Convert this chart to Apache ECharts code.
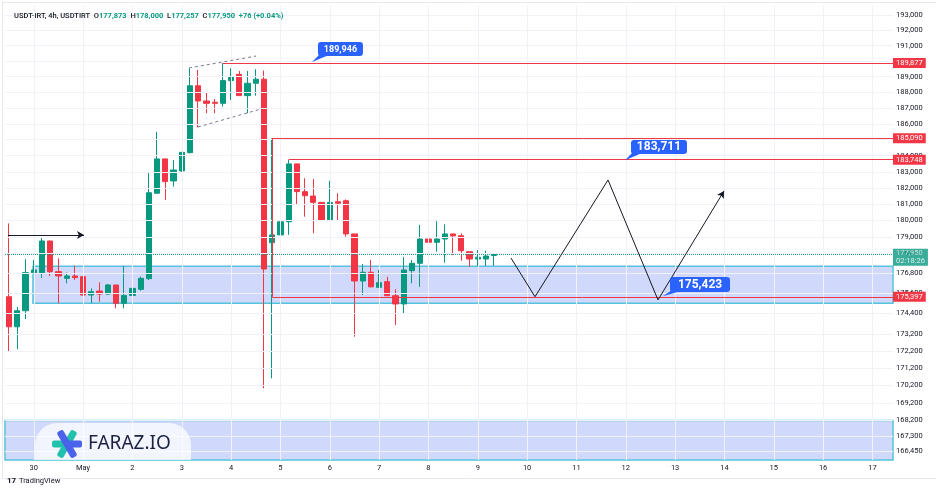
<!DOCTYPE html>
<html><head><meta charset="utf-8">
<script src="https://cdn.jsdelivr.net/npm/echarts@6/dist/echarts.min.js"></script>
<style>html,body{margin:0;padding:0;background:#fff}#c{width:936px;height:492px}</style>
</head><body><div id="c"></div>
<script>
// ---------- DATA ----------
const startMs = Date.UTC(2025, 3, 29, 12); // first 4h bar: Apr 29 12:00
const slotCount = 108;                      // 4h slots shown on the time axis
// [open, close, low, high]
const candles = [
  [175400,173620,172160,179820],[173620,174570,172300,174790],[174570,176840,174080,177650],
  [176840,177000,176820,177600],[176840,178750,176520,178980],[178750,176900,176640,178760],
  [176900,176640,175010,177700],[176500,176640,176200,176840],[176640,176540,176400,177260],
  [176600,175500,175490,176620],[175500,175700,175010,175900],[175740,175560,175100,176260],
  [175560,176100,175500,176160],[176100,175010,174710,176100],[175010,175480,174710,177240],
  [175480,175900,175480,176230],[175840,176500,175760,176600],[176480,181700,176400,182990],
  [181670,183800,181670,185500],[183800,182390,181260,183800],[182430,183110,182080,183730],
  [183050,184210,183000,184210],[184190,188420,184150,189540],[188420,187450,185780,189430],
  [187450,187300,186670,187980],[187370,187300,186670,187580],[187300,188750,187090,189877],
  [188750,188960,187510,189540],[189150,187790,187790,189370],[187790,188580,186670,189370],
  [188580,188840,187790,189480],[188840,177060,170030,189390],[178650,179120,170610,185090],
  [179120,179920,178200,180400],[179920,183490,179120,183748],[183490,181770,181010,183490],
  [181770,181520,180230,182600],[181500,181110,179220,182550],[181110,180030,180030,181110],
  [180030,181110,180030,182440],[181150,181050,179980,181670],[181210,179180,179010,181290],
  [179180,176340,173040,179180],[176340,176860,175500,177360],[176860,175990,175960,177600],
  [175960,176240,175930,177000],[176300,175460,175440,176600],[175460,174970,173720,175840],
  [174970,177000,174420,177770],[176960,177400,176200,177600],[177400,178870,175990,179730],
  [178870,178670,176800,182800],[178670,178870,178100,179960],[178870,179180,177440,179760],
  [179180,179060,177900,179180],[179070,178160,177560,179220],[178100,177660,177200,178100],
  [177660,177770,177240,178200],[177660,177840,177240,178160],[177873,177950,177257,178000]
];
const yTickValues = [193000,192000,191000,190000,189000,188000,187000,186000,185000,184000,183000,
  182000,181000,180000,179000,178000,176800,175600,174400,173200,172200,171200,170200,169200,168200,167300,166450];
const priceMin = 165945, priceMax = 193656;
const lastPrice = 177950, countdown = '02:18:26', change = '+76 (+0.04%)';
// horizontal red levels: [start bar index, price]
const redLevels = [[26,189877],[32,185090],[34,183748],[32,175397]];
const demandZone = [2.9, 175010, 177230];   // [start index, low, high]
const lowerZone = [-0.5, 165945, 168180];
const zigzag = [[61.04,177720],[63.96,175400],[72.84,182490],[78.92,175210],[86.95,181810]];
const markerArrow = [[-0.13,179115],[9.11,179115]];
const wedgeUpper = [[21.88,189560],[30.03,190330]];
const wedgeLower = [[22.97,185800],[30.64,186940]];
const calloutLabels = ['189,946','183,711','175,423'];
const calloutTips = [[36.84,189946],[74.91,183711],[79.5,175423]];
const calloutBoxes = [[40.3,190786],[79.04,184545],[84.03,176126]];

// ---------- BUILD ----------
const categories = [];
for (let k = 0; k < slotCount; k++) {
  categories.push(new Date(startMs + k * 4 * 3600e3).toISOString().slice(0, 13));
}
const dayIdx = [];
categories.forEach((c, i) => { if (c.slice(11, 13) === '00') dayIdx.push(i); });
const fmt = v => v.toLocaleString('en-US');
const xEnd = slotCount - 0.5;
const FONT = 'Roboto, "Liberation Sans", sans-serif';
const last = candles[candles.length - 1];

const calloutStyle = [
  {w:45,h:14,font:'bold 9px '+FONT},
  {w:56,h:14,font:'bold 12px '+FONT},
  {w:60,h:15,font:'bold 12px '+FONT}
];

const chart = echarts.init(document.getElementById('c'), null, {renderer:'canvas'});
chart.setOption({
  animation: false,
  backgroundColor: '#ffffff',
  title: {
    left: 9, top: 7,
    text: '{d|USDT-IRT, 4h, USDTIRT}  {d|O}{g|' + fmt(last[0]) + '}  {d|H}{g|' + fmt(last[3]) +
          '}  {d|L}{g|' + fmt(last[2]) + '}  {d|C}{g|' + fmt(last[1]) + '}  {g|' + change + '}',
    textStyle: {
      fontSize: 7.5, fontFamily: FONT,
      rich: {
        d: {color:'#131722', fontSize:7.5, fontWeight:500, fontFamily: FONT},
        g: {color:'#089981', fontSize:7.5, fontFamily: FONT}
      }
    }
  },
  grid: {left: 5, right: 43, top: 5, bottom: 32},
  xAxis: [
    {
      type: 'category', data: categories, boundaryGap: true,
      axisLine: {show:false}, axisTick: {show:false}, splitLine: {show:false},
      axisLabel: {
        interval: (i, v) => v.slice(11, 13) === '00',
        formatter: v => (+v.slice(8, 10) === 1 ? 'May' : String(+v.slice(8, 10))),
        color: '#131722', fontSize: 7.5, margin: 4, fontFamily: FONT
      }
    },
    {type: 'value', min: -0.5, max: xEnd, show: false}
  ],
  yAxis: [{
    type: 'log', logBase: 10, min: priceMin, max: priceMax, position: 'right',
    axisLine: {show:false}, axisTick: {show:false}, axisLabel: {show:false}, splitLine: {show:false}
  }],
  graphic: [
    {type:'rect', left:0, top:0, shape:{x:0.5,y:0.5,width:934,height:476}, style:{fill:'none', stroke:'#e6e8ee', lineWidth:1}, z:-10, silent:true},
    // watermark pill
    {type:'rect', shape:{x:35,y:423,width:156,height:37,r:[22,22,0,0]}, style:{fill:'rgba(255,255,255,0.72)'}, z:50, silent:true},
    {type:'rect', x:67, y:444, z:60, silent:true, shape:{x:-15,y:-3.5,width:15,height:7,r:2}, style:{fill:'#22c1ad'}},
    {type:'rect', x:67, y:444, z:60, silent:true, rotation:Math.PI/3, shape:{x:-15,y:-3.5,width:30,height:7,r:2}, style:{fill:'#22c1ad'}},
    {type:'rect', x:67, y:444, z:60, silent:true, rotation:-Math.PI/3, shape:{x:-15,y:-3.5,width:30,height:7,r:2}, style:{fill:'#4a63ea'}},
    {type:'rect', x:67, y:444, z:60, silent:true, shape:{x:0,y:-3.5,width:15,height:7,r:2}, style:{fill:'#4a63ea'}},
    {type:'text', x:88, y:444, z:60, silent:true, style:{text:'FARAZ.IO', font:'19px "Noto Sans", sans-serif', fill:'#1b2240', verticalAlign:'middle'}},
    // footer
    {type:'text', x:7, y:481, silent:true, style:{text:'17', font:'bold 8px ' + FONT, fill:'#131722', verticalAlign:'middle'}},
    {type:'text', x:19, y:481, silent:true, style:{text:'TradingView', font:'7.5px ' + FONT, fill:'#131722', verticalAlign:'middle'}}
  ],
  series: [
    { // grid lines + price scale labels
      type: 'line', xAxisIndex: 1, yAxisIndex: 0, data: [], z: 1, silent: true,
      markLine: {
        silent: true, symbol: ['none','none'], animation: false,
        lineStyle: {color:'#f0f2f7', width:1, type:'solid'},
        data: yTickValues.map(v => ({yAxis: v, label: {show:true, position:'end', distance:3, formatter: fmt(v),
                 color:'#131722', fontSize:7.5, fontFamily: FONT}}))
          .concat(dayIdx.map(i => ({xAxis: i, label: {show:false}})))
      }
    },
    { // zones
      type: 'line', xAxisIndex: 1, yAxisIndex: 0, data: [], z: 2, silent: true,
      markArea: {
        silent: true,
        data: [
          [{coord:[demandZone[0], demandZone[2]], itemStyle:{color:'rgba(80,110,240,0.27)', borderColor:'#55c3de', borderWidth:1.5}},
           {coord:[xEnd, demandZone[1]]}],
          [{coord:[lowerZone[0], lowerZone[2]], itemStyle:{color:'rgba(80,110,240,0.27)', borderColor:'#55c3de', borderWidth:1.5}},
           {coord:[xEnd, lowerZone[1]]}]
        ]
      }
    },
    { // last price dotted line
      type: 'line', xAxisIndex: 1, yAxisIndex: 0, data: [], z: 3, silent: true,
      markLine: {silent:true, symbol:['none','none'],
        lineStyle: {color:'#089981', width:1, type:'dotted', opacity:0.9},
        data: [{yAxis: lastPrice, label:{show:false}}]}
    },
    {
      type: 'candlestick', xAxisIndex: 0, yAxisIndex: 0, data: candles, z: 4, barWidth: '70%',
      itemStyle: {color:'#089981', color0:'#f23645', borderColor:'#089981', borderColor0:'#f23645', borderWidth:1}
    },
    { // red levels with axis price boxes
      type: 'line', xAxisIndex: 1, yAxisIndex: 0, data: [], z: 6, silent: true,
      markLine: {
        silent: true, symbol: ['none','none'],
        lineStyle: {color:'#f23645', width:1, type:'solid'},
        data: redLevels.map(l => [
          {coord:[l[0], l[1]], label:{show:true, position:'end', distance:0, formatter: fmt(l[1]),
            backgroundColor:'#f23645', color:'#fff', fontSize:7.5, padding:[1,3,1,3], fontFamily: FONT}},
          {coord:[xEnd, l[1]]}
        ]).concat([[{coord:[redLevels[1][0], redLevels[1][1]], label:{show:false}}, {coord:[redLevels[3][0], redLevels[3][1]]}]])
      }
    },
    { // drawings
      type: 'line', xAxisIndex: 1, yAxisIndex: 0, data: [], z: 7, silent: true,
      markLine: {
        silent: true, symbol: ['none','none'],
        lineStyle: {color:'#131722', width:1, type:'solid'},
        label: {show:false},
        data: zigzag.slice(0, -1).map((p, i) => {
          const q = zigzag[i + 1];
          const isLast = i === zigzag.length - 2;
          return [{coord:p}, {coord:q, symbol: isLast ? 'arrow' : 'none', symbolSize: isLast ? [6,7] : 0}];
        }).concat([
          [{coord:markerArrow[0]}, {coord:markerArrow[1], symbol:'arrow', symbolSize:[6,7]}],
          [{coord:wedgeUpper[0], lineStyle:{color:'#787b86', type:[3,3]}}, {coord:wedgeUpper[1]}],
          [{coord:wedgeLower[0], lineStyle:{color:'#787b86', type:[3,3]}}, {coord:wedgeLower[1]}]
        ])
      }
    },
    { // callouts
      type: 'custom', xAxisIndex: 1, yAxisIndex: 0, z: 8, silent: true, clip: false,
      data: calloutTips.map((t, i) => [t[0], t[1], calloutBoxes[i][0], calloutBoxes[i][1]]),
      encode: {x:[0,2], y:[1,3]},
      renderItem: (params, api) => {
        const i = params.dataIndex, s = calloutStyle[i];
        const tip = api.coord([api.value(0), api.value(1)]);
        const c = api.coord([api.value(2), api.value(3)]);
        const left = c[0] - s.w / 2, top = c[1] - s.h / 2;
        return {type:'group', children:[
          {type:'polygon', shape:{points:[tip, [left + 2, top + s.h - 2], [left + 11, top + s.h - 1]]}, style:{fill:'#2962ff'}},
          {type:'rect', shape:{x:left, y:top, width:s.w, height:s.h, r:3}, style:{fill:'#2962ff'}},
          {type:'text', style:{x:c[0], y:c[1] + 0.5, text:calloutLabels[i], fill:'#fff', font:s.font, align:'center', verticalAlign:'middle'}}
        ]};
      }
    },
    { // last price box
      type: 'scatter', xAxisIndex: 1, yAxisIndex: 0, z: 9, silent: true, clip: false,
      symbolSize: 0, data: [[xEnd, lastPrice]],
      label: {show:true, position:'right', distance:0, offset:[0,3],
        formatter: fmt(lastPrice) + '\n' + countdown,
        backgroundColor:'#089981', color:'#fff', fontSize:7.5, lineHeight:7.5, padding:[1,3,1,3], fontFamily: FONT}
    }
  ]
});
</script>
</body></html>
